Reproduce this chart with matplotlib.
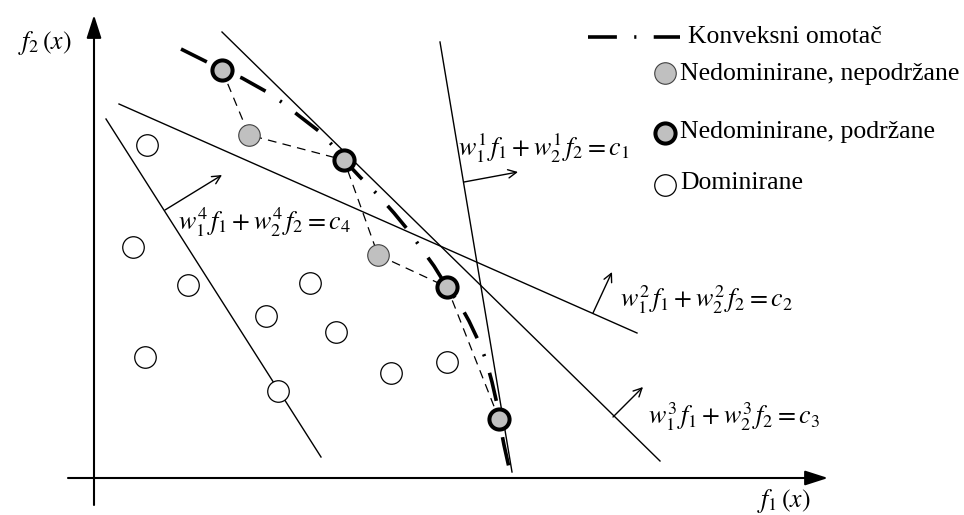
import matplotlib
matplotlib.use('Agg')
import matplotlib.pyplot as plt

plt.rcParams['font.family'] = ['Liberation Serif', 'DejaVu Serif']
plt.rcParams['mathtext.fontset'] = 'stix'

# coordinates in the (f1, f2) frame, origin where the axes cross
supported_f1 = [128, 250, 353, 405]
supported_f2 = [408, 318, 191, 59]
unsupported_f1 = [155, 284]
unsupported_f2 = [343, 223]
dominated_f1 = [53, 39, 94, 172, 216, 242, 51, 184, 297, 353]
dominated_f2 = [333, 231, 193, 162, 195, 146, 121, 87, 105, 116]

# dashed path through the nondominated points
path_f1 = [128, 155, 250, 284, 353, 405]
path_f2 = [408, 343, 318, 223, 191, 59]

# convex hull curve
hull_f1 = [87, 113, 128, 148, 173, 189, 204, 226, 240, 250, 266, 284, 300, 314,
           327, 340, 353, 365, 375, 384, 392, 398, 403, 405, 410, 416]
hull_f2 = [429, 416, 408, 400, 386, 375, 363, 346, 331, 318, 301, 283, 265, 248,
           230, 212, 191, 175, 157, 138, 118, 96, 74, 59, 33, 6]

# weighted sum lines w1 f1 + w2 f2 = c (end points) and their normal arrows
lines = {
    1: ((346, 436), (418, 6)),
    2: ((25, 374), (543, 145)),
    3: ((128, 446), (566, 17)),
    4: ((12, 359), (227, 21)),
}
normals = {
    1: ((370, 296), (424, 306)),
    2: ((499, 165), (518, 206)),
    3: ((519, 61), (549, 91)),
    4: ((71, 268), (128, 303)),
}
label_pos = {
    1: (364, 330),
    2: (526, 178),
    3: (554, 61),
    4: (84, 256),
}

GRAY = '#c0c0c0'
HULL_DASH = [8, 4.8, 0.6, 4.8]

fig = plt.figure(figsize=(9.64, 5.15), dpi=100)
ax = fig.add_axes([0, 0, 1, 1])
ax.set_xlim(-94, 870)
ax.set_ylim(-37, 478)
ax.axis('off')

# axes with arrows
ax.annotate('', xy=(0, 463), xytext=(0, -27),
            arrowprops=dict(arrowstyle='-|>,head_length=1.4,head_width=0.45',
                            lw=1.5, color='black', shrinkA=0, shrinkB=0))
ax.annotate('', xy=(734, 0), xytext=(-26, 0),
            arrowprops=dict(arrowstyle='-|>,head_length=1.4,head_width=0.45',
                            lw=1.5, color='black', shrinkA=0, shrinkB=0))
ax.text(-22, 435, r'$f_2\,(x)$', fontsize=18.5, ha='right', va='center')
ax.text(690, -23, r'$f_1\,(x)$', fontsize=18.5, ha='center', va='center')

# weighted lines
for k, (p, q) in lines.items():
    ax.plot([p[0], q[0]], [p[1], q[1]], color='black', lw=1.0)
for k, (p, q) in normals.items():
    ax.annotate('', xy=q, xytext=p,
                arrowprops=dict(arrowstyle='->,head_length=0.6,head_width=0.3',
                                lw=1.0, color='black', shrinkA=0, shrinkB=0))
for k, (x, y) in label_pos.items():
    ax.text(x, y, r'$w_1^{%d}\,f_1 + w_2^{%d}\,f_2 = c_%d$' % (k, k, k),
            fontsize=18.7, ha='left', va='center')

# dashed path and hull
ax.plot(path_f1, path_f2, color='black', lw=0.9, dashes=[7, 5])
ax.plot(hull_f1, hull_f2, color='black', lw=2.6, dashes=HULL_DASH)

# points
ax.plot(dominated_f1, dominated_f2, 'o', ms=15.5, mfc='white', mec='black', mew=0.9)
ax.plot(unsupported_f1, unsupported_f2, 'o', ms=15.5, mfc=GRAY, mec='#404040', mew=0.8)
ax.plot(supported_f1, supported_f2, 'o', ms=14.5, mfc=GRAY, mec='black', mew=2.9)

# legend
ax.plot([494, 586], [441, 441], color='black', lw=2.6, dashes=HULL_DASH)
ax.text(594, 441, 'Konveksni omotač', fontsize=18.5, ha='left', va='center')
ax.plot([571], [405], 'o', ms=15.5, mfc=GRAY, mec='#404040', mew=0.8)
ax.text(586, 404, 'Nedominirane, nepodržane', fontsize=18.5, ha='left', va='center')
ax.plot([571], [345], 'o', ms=14.5, mfc=GRAY, mec='black', mew=2.9)
ax.text(586, 346, 'Nedominirane, podržane', fontsize=18.5, ha='left', va='center')
ax.plot([571], [293], 'o', ms=15.5, mfc='white', mec='black', mew=0.9)
ax.text(586, 295, 'Dominirane', fontsize=18.5, ha='left', va='center')

fig.savefig('out.png', dpi=100)
